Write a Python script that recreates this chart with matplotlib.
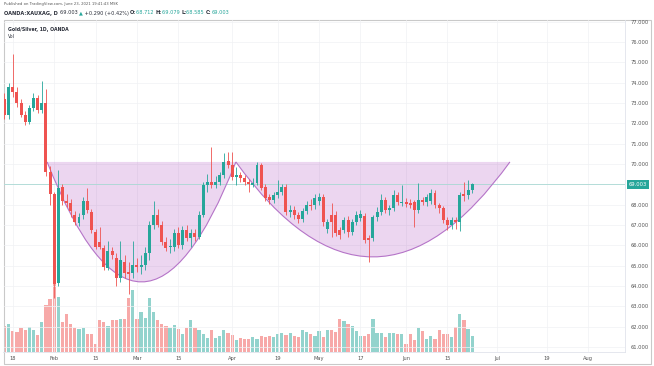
import numpy as np
import pandas as pd
import matplotlib
matplotlib.use('Agg')
import matplotlib.pyplot as plt
import matplotlib.transforms as mtransforms
from matplotlib.path import Path
from matplotlib.patches import PathPatch, Rectangle

# trading days shown on the chart (Good Friday has no bar)
dates = pd.bdate_range('2021-01-14', '2021-06-23')
dates = dates[dates != pd.Timestamp('2021-04-02')]
calendar = pd.bdate_range('2021-01-14', '2021-08-06')
calendar = calendar[calendar != pd.Timestamp('2021-04-02')]

opens = [73.20, 72.40, 73.80, 73.55, 73.00, 72.40, 72.05, 72.75, 73.25, 72.65,
         73.00, 69.60, 68.50, 64.15, 68.85, 68.20, 68.10, 67.50, 67.10, 67.50,
         68.20, 67.65, 66.65, 66.15, 65.85, 64.90, 65.70, 65.40, 64.40, 65.20,
         64.70, 64.65, 65.05, 64.95, 65.05, 65.60, 67.00, 67.50, 67.00, 66.15,
         65.90, 65.92, 66.60, 66.00, 66.75, 66.35, 66.60, 66.40, 67.50, 68.97,
         69.12, 68.97, 69.12, 69.46, 70.15, 69.95, 69.36, 69.46, 69.30, 69.10,
         68.97, 69.05, 69.95, 68.87, 68.38, 68.23, 68.48, 68.60, 68.87, 67.64,
         67.75, 67.50, 67.30, 67.70, 68.00, 67.98, 68.20, 68.38, 66.80, 67.49,
         67.49, 66.76, 66.76, 67.25, 66.66, 67.15, 67.35, 67.45, 66.36, 66.36,
         67.39, 67.64, 68.23, 67.74, 67.84, 68.48, 68.10, 68.15, 68.10, 68.13,
         67.74, 68.23, 68.13, 68.20, 68.57, 67.98, 67.84, 67.25, 67.00, 67.25,
         67.15, 68.50, 68.45, 68.712]
highs = [73.50, 74.00, 75.40, 73.80, 73.20, 72.60, 72.90, 73.50, 73.40, 74.10,
         73.70, 69.90, 68.60, 69.70, 69.00, 68.50, 68.30, 67.70, 67.60, 68.40,
         68.80, 67.80, 66.80, 66.90, 66.00, 66.20, 65.90, 65.60, 66.20, 65.50,
         65.20, 66.20, 65.40, 65.50, 65.90, 67.20, 68.20, 67.80, 67.20, 66.40,
         66.30, 66.80, 66.90, 66.95, 67.00, 66.80, 66.80, 67.70, 69.10, 69.50,
         70.85, 69.40, 69.60, 70.55, 70.60, 70.60, 69.85, 69.60, 69.45, 69.25,
         69.30, 70.10, 70.05, 69.00, 68.50, 68.60, 69.20, 69.00, 69.00, 68.00,
         67.95, 67.65, 67.85, 68.20, 68.30, 68.50, 68.55, 68.50, 67.30, 68.10,
         67.70, 66.90, 67.40, 67.45, 67.30, 67.70, 67.75, 67.60, 66.50, 67.50,
         67.90, 68.50, 68.40, 68.00, 68.70, 68.60, 68.97, 68.35, 68.30, 68.25,
         69.07, 68.40, 68.50, 68.75, 68.70, 68.10, 67.95, 67.40, 67.40, 67.40,
         68.60, 69.10, 69.20, 69.079]
lows = [72.20, 72.20, 73.30, 72.80, 72.30, 71.90, 71.95, 72.60, 72.50, 72.50,
        69.40, 68.00, 63.40, 64.00, 68.00, 67.90, 67.40, 67.00, 66.95, 67.30,
        67.60, 66.60, 65.80, 65.80, 64.80, 64.80, 65.35, 64.00, 64.20, 64.40,
        63.60, 64.40, 64.70, 64.60, 64.80, 65.30, 66.80, 66.90, 66.00, 65.70,
        65.60, 65.70, 65.85, 65.80, 66.20, 65.90, 66.20, 66.30, 67.40, 68.60,
        68.80, 68.80, 68.95, 69.30, 69.80, 69.20, 68.95, 69.10, 68.95, 68.60,
        68.85, 68.95, 68.70, 68.20, 68.05, 68.10, 68.35, 68.45, 67.50, 67.40,
        67.30, 67.10, 67.15, 67.55, 67.75, 67.80, 68.00, 66.95, 66.60, 66.40,
        66.45, 66.30, 66.60, 66.40, 66.50, 67.00, 67.20, 66.10, 65.18, 66.20,
        67.20, 67.50, 67.60, 67.50, 67.70, 68.00, 67.95, 67.90, 67.85, 66.90,
        67.60, 68.00, 67.95, 68.05, 67.85, 67.60, 67.10, 66.75, 66.80, 66.80,
        66.70, 68.20, 68.30, 68.585]
closes = [72.40, 73.80, 73.55, 73.00, 72.40, 72.05, 72.75, 73.25, 72.65, 73.00,
          69.60, 68.50, 64.10, 68.80, 68.20, 68.10, 67.70, 67.15, 67.40, 68.20,
          67.75, 66.75, 65.90, 65.90, 64.95, 65.70, 65.50, 64.40, 65.30, 64.65,
          64.60, 65.05, 64.95, 65.05, 65.60, 67.00, 67.50, 67.00, 66.15, 65.85,
          65.98, 66.60, 66.00, 66.75, 66.35, 66.60, 66.40, 67.50, 68.97, 69.12,
          68.97, 69.12, 69.46, 70.10, 69.95, 69.36, 69.46, 69.30, 69.10, 69.00,
          69.05, 69.95, 68.82, 68.33, 68.23, 68.48, 68.62, 68.87, 67.64, 67.75,
          67.50, 67.30, 67.70, 68.00, 67.95, 68.33, 68.38, 67.15, 67.15, 67.15,
          66.61, 66.51, 67.25, 66.66, 67.15, 67.49, 67.55, 66.26, 66.26, 67.39,
          67.64, 68.23, 67.74, 67.84, 68.48, 68.13, 68.15, 68.05, 68.00, 67.74,
          68.23, 68.13, 68.38, 68.57, 67.98, 67.84, 67.25, 67.00, 67.25, 67.15,
          68.48, 68.42, 68.72, 69.003]
volumes = [77, 83, 62, 60, 72, 67, 75, 67, 50, 89,
           140, 160, 222, 165, 90, 115, 83, 73, 70, 72,
           55, 53, 25, 95, 90, 77, 95, 95, 100, 100,
           162, 187, 98, 120, 102, 162, 120, 95, 85, 77,
           73, 82, 70, 55, 73, 95, 73, 67, 55, 43,
           67, 42, 47, 65, 58, 50, 37, 43, 40, 40,
           45, 40, 48, 45, 48, 45, 55, 57, 52, 57,
           47, 45, 65, 60, 55, 48, 62, 45, 65, 67,
           60, 100, 92, 85, 77, 62, 47, 47, 53, 100,
           57, 57, 45, 57, 57, 53, 53, 23, 53, 35,
           73, 63, 40, 48, 40, 65, 53, 53, 45, 75,
           113, 95, 70, 47]

tick_dates = ['2021-01-18', '2021-02-01', '2021-02-15', '2021-03-01', '2021-03-15',
              '2021-04-01', '2021-04-19', '2021-05-03', '2021-05-17', '2021-06-01',
              '2021-06-15', '2021-07-01', '2021-07-19', '2021-08-02']
tick_labels = ['18', 'Feb', '15', 'Mar', '15', 'Apr', '19', 'May', '17', 'Jun',
               '15', 'Jul', '19', 'Aug']
price_grid = list(range(61, 78))
# 69.000 sits under the last-price label, so it is not printed
price_labels = [p for p in price_grid if p != 69]

# cup drawings (bar index, price)
cup_left = [10.3, 55.9]
cup_right = [55.9, 122.1]
cup_top = [70.1, 70.1]
cup_bottom = [64.2, 65.43]

UP, DOWN = '#26a69a', '#ef5350'
UP_VOL, DOWN_VOL = '#93d3cd', '#f7a9a8'

W, H = 654, 366
fig = plt.figure(figsize=(W / 100, H / 100), dpi=100)
fig.patch.set_facecolor('white')

left_px, right_px, top_px, bottom_px = 3.5, 625, 20, 352
pos = [left_px / W, 1 - bottom_px / H, (right_px - left_px) / W, (bottom_px - top_px) / H]
x_lo, x_hi = -0.24, 149.9

x = np.arange(len(dates))
o = np.array(opens)
c = np.array(closes)
up = c >= o

# volume underneath the price pane
ax_v = fig.add_axes(pos)
ax_v.bar(x, volumes, width=0.78, color=np.where(up, UP_VOL, DOWN_VOL), zorder=2)
ax_v.set_xlim(x_lo, x_hi)
ax_v.set_ylim(0, max(volumes) * 4.5)
ax_v.axis('off')

ax = fig.add_axes(pos)
ax.patch.set_visible(False)
ax.set_zorder(ax_v.get_zorder() + 1)
ax.set_xlim(x_lo, x_hi)
ax.set_ylim(60.754, 77.08)

# grid
for p in price_grid:
    ax.axhline(p, color='#f0f1f4', lw=0.5, zorder=0)
tick_idx = [calendar.get_loc(pd.Timestamp(d)) for d in tick_dates]
for t in tick_idx:
    ax.axvline(t, color='#f0f1f4', lw=0.5, zorder=0)

# cups
for x0, x1, top, bot in zip(cup_left, cup_right, cup_top, cup_bottom):
    xm = (x0 + x1) / 2
    ctrl = 2 * bot - top
    verts = [(x0, top), (xm, ctrl), (x1, top), (x0, top)]
    codes = [Path.MOVETO, Path.CURVE3, Path.CURVE3, Path.CLOSEPOLY]
    ax.add_patch(PathPatch(Path(verts, codes), facecolor='#9c27b0', alpha=0.19,
                           edgecolor='none', zorder=1))
    ax.add_patch(PathPatch(Path(verts[:3], codes[:3]), facecolor='none',
                           edgecolor='#b574c8', lw=0.8, zorder=1.5))

# last price line
ax.axhline(closes[-1], color='#a9d9d4', lw=0.6, zorder=1.2)

# candles
colors = np.where(up, UP, DOWN)
ax.vlines(x, lows, highs, colors=colors, lw=0.6, zorder=3)
body_low = np.minimum(o, c)
body_h = np.maximum(np.abs(c - o), 0.04)
ax.bar(x, body_h, bottom=body_low, width=0.72, color=colors, zorder=4)

# axes styling
ax.yaxis.tick_right()
ax.set_yticks(price_labels)
ax.set_yticklabels(['%.3f' % p for p in price_labels])
ax.tick_params(axis='y', length=0, pad=4, labelsize=3.7, labelcolor='#555555')
ax.set_xticks(tick_idx)
ax.set_xticklabels(tick_labels)
ax.tick_params(axis='x', length=0, pad=3, labelsize=3.7, labelcolor='#555555')
for s in ['top', 'left']:
    ax.spines[s].set_visible(False)
for s in ['right', 'bottom']:
    ax.spines[s].set_color('#e0e3eb')
    ax.spines[s].set_linewidth(0.6)

# last price label on the scale
trans = mtransforms.blended_transform_factory(ax.transAxes, ax.transData)
ax.text(1.006, closes[-1], '%.3f' % closes[-1], transform=trans, ha='left', va='center',
        fontsize=3.7, color='white', zorder=6, clip_on=False,
        bbox=dict(boxstyle='square,pad=0.35', facecolor=UP, edgecolor='none'))

# outer frame
fig.add_artist(Rectangle((left_px / W, 1 - 364 / H), (651 - left_px) / W, (364 - top_px) / H,
                         transform=fig.transFigure, fill=False, edgecolor='#c9c9c9', lw=0.8))

# header
fig.canvas.draw()
renderer = fig.canvas.get_renderer()


def text_row(x0, y0, parts, size):
    xf = x0 / W
    for s, color, weight in parts:
        t = fig.text(xf, 1 - y0 / H, s, color=color, fontsize=size, fontweight=weight,
                     ha='left', va='center')
        xf += t.get_window_extent(renderer=renderer).width / W


dark = '#2a2e39'
fig.text(4 / W, 1 - 4.5 / H, 'Published on TradingView.com, June 23, 2021 19:41:43 MSK',
         fontsize=2.7, color='#555555', ha='left', va='center')
text_row(4, 13, [('OANDA:XAUXAG, D ', dark, 'bold'),
                 ('69.003 ', dark, 'normal'),
                 ('▲', UP, 'normal'),
                 (' +0.290 (+0.42%) ', dark, 'normal'),
                 ('O:', dark, 'bold'), ('68.712 ', UP, 'normal'),
                 ('H:', dark, 'bold'), ('69.079 ', UP, 'normal'),
                 ('L:', dark, 'bold'), ('68.585 ', UP, 'normal'),
                 ('C:', dark, 'bold'), ('69.003', UP, 'normal')], 3.6)
fig.text(8 / W, 1 - 29 / H, 'Gold/Silver, 1D, OANDA', fontsize=3.3, fontweight='bold',
         color=dark, ha='left', va='center')
fig.text(8 / W, 1 - 37 / H, 'Vol', fontsize=3.3, color=dark, ha='left', va='center')

fig.savefig('out.png', dpi=100)
